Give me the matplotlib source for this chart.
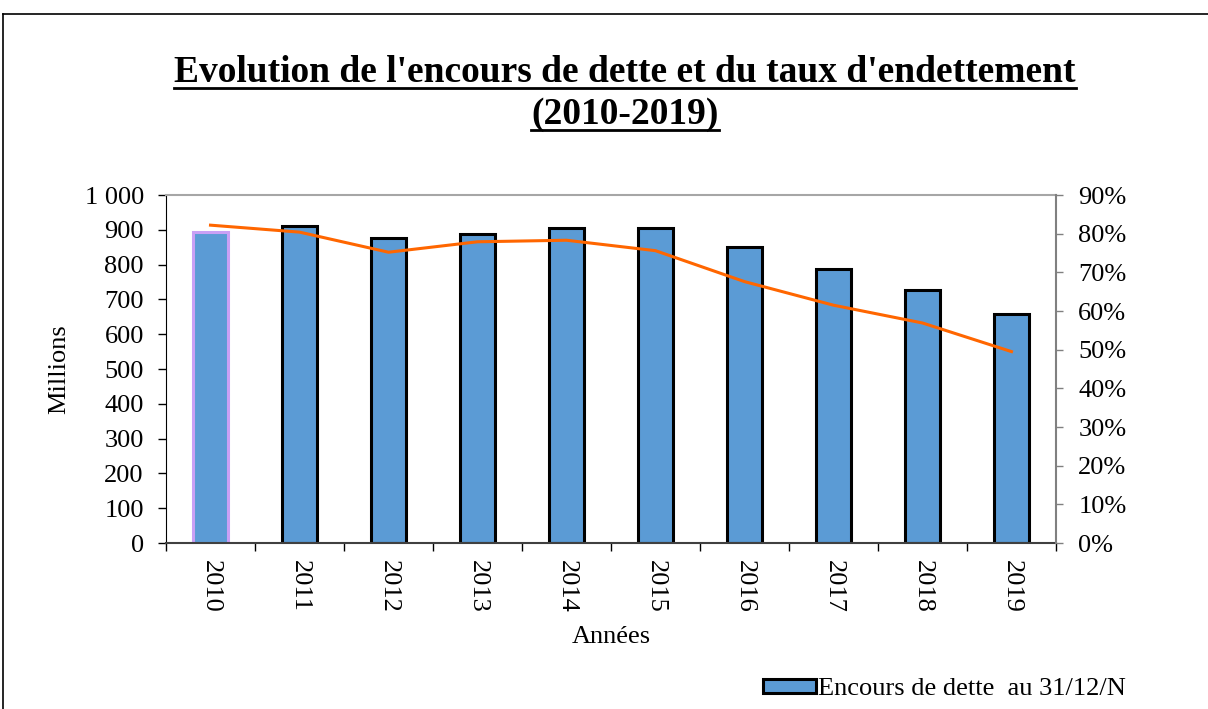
import matplotlib
matplotlib.use("Agg")
import matplotlib.pyplot as plt
from matplotlib.lines import Line2D
from matplotlib.ticker import FuncFormatter
import numpy as np

years = ["2010", "2011", "2012", "2013", "2014", "2015", "2016", "2017", "2018", "2019"]
encours = [893, 911, 876, 888, 905, 905, 851, 787, 727, 658]
taux = [0.822, 0.804, 0.752, 0.779, 0.783, 0.756, 0.676, 0.615, 0.569, 0.495]
ytick_labels = ["0", "100", "200", "300", "400", "500", "600", "700", "800", "900", "1 000"]

plt.rcParams['font.family'] = ['Liberation Serif', 'DejaVu Serif']
FS = 19

fig = plt.figure(figsize=(12.08, 7.09), dpi=100)
ax = fig.add_axes([166/1208, 1-543/709, (1056-166)/1208, (543-195)/709])

x = np.arange(len(years))
edgecolors = ['#c9a0f5'] + ['black'] * (len(years) - 1)
bars = ax.bar(x, encours, width=0.4, color='#5b9bd5', edgecolor=edgecolors, linewidth=2.2,
              label='Encours de dette  au 31/12/N', zorder=2)

ax.set_xlim(-0.5, len(years) - 0.5)
ax.set_ylim(0, 1000)
ax.set_yticks(np.arange(0, 1001, 100))
ax.set_yticklabels(ytick_labels)
ax.set_xticks(x)
ax.set_xticklabels(years, rotation=270)
ax.set_xticks(np.arange(-0.5, len(years), 1), minor=True)
ax.tick_params(axis='x', which='major', length=0, labelsize=FS, pad=12)
ax.tick_params(axis='x', which='minor', length=6, width=1, color='black', direction='out')
ax.tick_params(axis='y', length=6, width=1, labelsize=FS, direction='out', pad=10)
ax.spines['top'].set_color('#a6a6a6')
ax.spines['top'].set_linewidth(1.5)
ax.spines['right'].set_visible(False)
ax.spines['left'].set_color('black')
ax.spines['bottom'].set_color('#404040')
ax.spines['bottom'].set_linewidth(1.5)
ax.set_ylabel('Millions', fontsize=FS, labelpad=10)
ax.set_xlabel('Années', fontsize=FS, labelpad=10)

ax2 = ax.twinx()
ax2.plot(x, taux, color='#ff6600', linewidth=2.2, zorder=3)
ax2.set_ylim(0, 0.9)
ax2.set_yticks(np.arange(0, 0.91, 0.1))
ax2.yaxis.set_major_formatter(FuncFormatter(lambda v, p: f"{int(round(v*100))}%"))
ax2.tick_params(axis='y', length=5, width=1, labelsize=FS, direction='out', color='#808080', pad=11)
ax2.spines['right'].set_color('#808080')
ax2.spines['right'].set_linewidth(1.5)
for s in ['top', 'left', 'bottom']:
    ax2.spines[s].set_visible(False)

# legend
leg = fig.legend(handles=[bars], labels=['Encours de dette  au 31/12/N'], loc='center left',
                 bbox_to_anchor=(763/1208, 1-689/709), frameon=False, fontsize=FS,
                 handlelength=2.0, handleheight=0.45, handletextpad=0.08, borderaxespad=0,
                 borderpad=0)
for h in leg.legend_handles:
    h.set_edgecolor('black')
    h.set_linewidth(2.2)

# title
t1 = fig.text(625/1208, 1-73/709, "Evolution de l'encours de dette et du taux d'endettement",
              ha='center', va='center', fontsize=27, fontweight='bold')
t2 = fig.text(625/1208, 1-115/709, "(2010-2019)", ha='center', va='center', fontsize=27,
              fontweight='bold')

fig.canvas.draw()
r = fig.canvas.get_renderer()
for t in (t1, t2):
    bb = t.get_window_extent(r)
    y = bb.y0 + 3
    fig.add_artist(Line2D([bb.x0/1208, bb.x1/1208], [y/709, y/709], color='black',
                          linewidth=2, transform=fig.transFigure))

# outer frame
fig.add_artist(Line2D([3/1208, 1.0], [1-14/709, 1-14/709], color='black', linewidth=1.2,
                      transform=fig.transFigure))
fig.add_artist(Line2D([3/1208, 3/1208], [0, 1-14/709], color='black', linewidth=1.2,
                      transform=fig.transFigure))

fig.savefig('out.png', dpi=100)
